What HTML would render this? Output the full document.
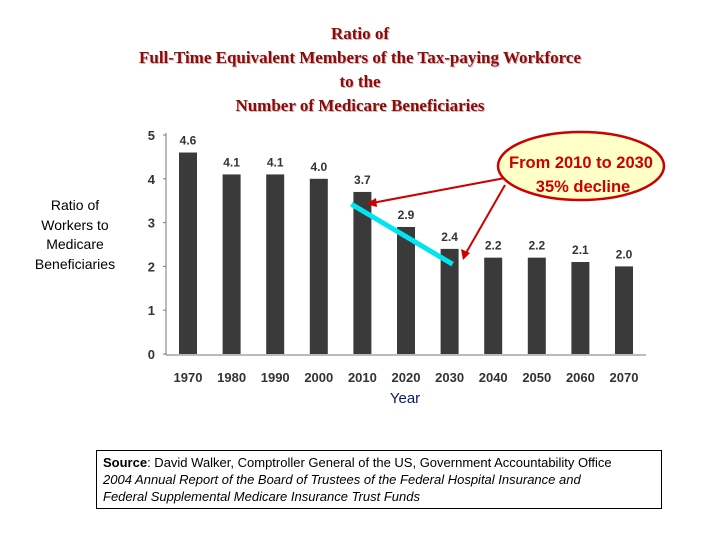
<!DOCTYPE html>
<html><head><meta charset="utf-8"><style>
body{margin:0;background:#fff;width:720px;height:540px;overflow:hidden;position:relative;font-family:"Liberation Sans",sans-serif}
.t{position:absolute;left:0;width:720px;text-align:center;font-family:"Liberation Serif",serif;font-weight:bold;font-size:17px;color:#8b0a0a;text-shadow:1px 1px 0 #d9b0b0}
</style></head><body>
<div>
<div class="t" style="top:24px">Ratio of</div>
<div class="t" style="top:48px">Full-Time Equivalent Members of the Tax-paying Workforce</div>
<div class="t" style="top:72px">to the</div>
<div class="t" style="top:96px">Number of Medicare Beneficiaries</div>
</div>
<div style="position:absolute;left:20px;top:196px;width:110px;text-align:center;font-size:14px;line-height:19.5px;color:#000">Ratio of<br>Workers to<br>Medicare<br>Beneficiaries</div>
<svg id="c" width="720" height="540" style="position:absolute;left:0;top:0"></svg>
<div style="position:absolute;left:96px;top:450px;width:566px;height:59px;border:1px solid #000;font-size:13px;line-height:17px;padding:3px 0 0 6px;box-sizing:border-box;color:#000;white-space:nowrap"><b>Source</b>: David Walker, Comptroller General of the US, Government Accountability Office<br><i>2004 Annual Report of the Board of Trustees of the Federal Hospital Insurance and<br>Federal Supplemental Medicare Insurance Trust Funds</i></div>
<script>
const categories=["1970","1980","1990","2000","2010","2020","2030","2040","2050","2060","2070"];
const values=[4.6,4.1,4.1,4.0,3.7,2.9,2.4,2.2,2.2,2.1,2.0];
const labels=["4.6","4.1","4.1","4.0","3.7","2.9","2.4","2.2","2.2","2.1","2.0"];
const yTicks=[0,1,2,3,4,5];
const svg=document.getElementById('c');const NS='http://www.w3.org/2000/svg';
function y(v){return 354-v*43.8;}
function x(i){return 188+i*43.6;}
function mk(t,a,p){const e=document.createElementNS(NS,t);for(const k in a)e.setAttribute(k,a[k]);(p||svg).appendChild(e);return e;}
let e=mk('line',{x1:166,y1:133,x2:166,y2:355,stroke:'#777','stroke-width':1});


e=mk('line',{x1:166,y1:355,x2:646,y2:355,stroke:'#777','stroke-width':1});


yTicks.forEach(v=>{
 mk('line',{x1:163,x2:166,y1:y(v),y2:y(v),stroke:'#777'});
 const t=mk('text',{x:155,y:y(v)+5,'text-anchor':'end','font-size':13,'font-weight':'bold',fill:'#333'});t.textContent=v;
 
 
});
values.forEach((v,i)=>{
 const r=mk('rect',{x:x(i)-9,y:y(v),width:18,height:354-y(v),fill:'#3a3a3a'});
 
 
 const l=mk('text',{x:x(i),y:y(v)-8,'text-anchor':'middle','font-size':12,'font-weight':'bold',fill:'#333'});l.textContent=labels[i];
 
 
 const c=mk('text',{x:x(i),y:382,'text-anchor':'middle','font-size':13,'font-weight':'bold',fill:'#333'});c.textContent=categories[i];
 
 
});
let xt=mk('text',{x:405,y:403,'text-anchor':'middle','font-size':15,fill:'#0a1a6a'});xt.textContent='Year';


const i1=4,i2=6;
e=mk('line',{x1:x(i1)-11,y1:y(3.42),x2:x(i2)+3,y2:y(2.05),stroke:'#00e5f0','stroke-width':5});


mk('line',{x1:505,y1:178,x2:372,y2:203,stroke:'#c00','stroke-width':2});
mk('polygon',{points:'366,204 376,198 377,207',fill:'#c00'});
mk('line',{x1:505,y1:185,x2:466,y2:253,stroke:'#c00','stroke-width':2});
mk('polygon',{points:'463,260 461,249 470,253',fill:'#c00'});
e=mk('ellipse',{cx:581,cy:166,rx:83,ry:34,fill:'#ffffc8',stroke:'#c00','stroke-width':2.5});


let a=mk('text',{x:581,y:168,'text-anchor':'middle','font-size':16.5,'font-weight':'bold',fill:'#c00'});a.textContent='From 2010 to 2030';
a=mk('text',{x:583,y:192,'text-anchor':'middle','font-size':16.5,'font-weight':'bold',fill:'#c00'});a.textContent='35% decline';
</script>
</body></html>
